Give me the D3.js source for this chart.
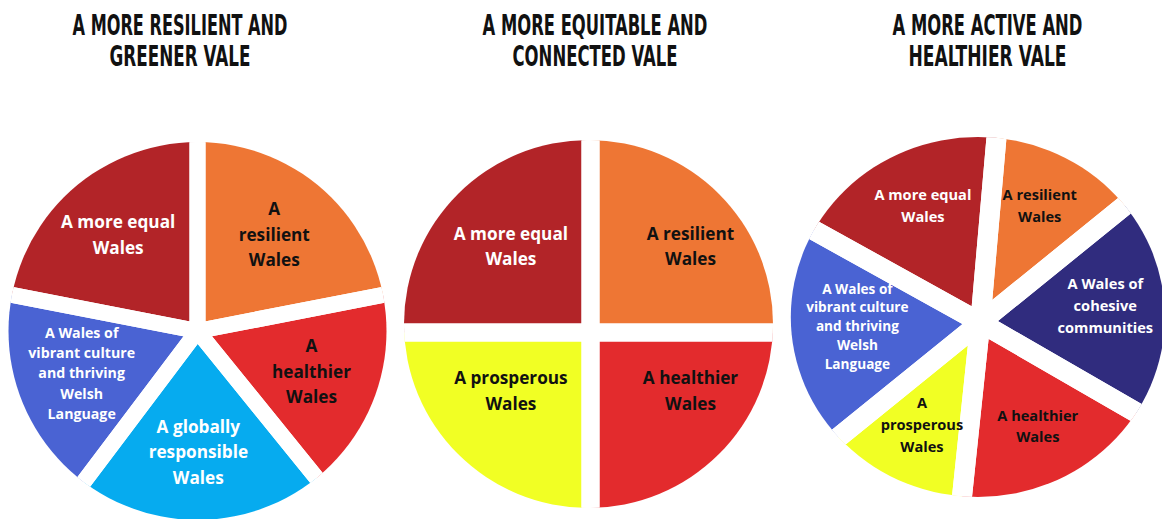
<!DOCTYPE html>
<html>
<head>
<meta charset="utf-8">
<script src="https://cdn.jsdelivr.net/npm/d3@7"></script>
<style>
  html, body { margin: 0; padding: 0; background: #ffffff; }
  svg { display: block; }
  .title { font-family: "Liberation Sans Narrow", "DejaVu Sans Condensed", sans-serif; font-weight: 700; fill: #111; }
  .lbl { font-family: "Open Sans", "Noto Sans", sans-serif; font-weight: 700; }
</style>
</head>
<body>
<div id="chart"></div>
<script>
// ---------------- DATA ----------------
const titles = [
  ["A MORE RESILIENT AND", "GREENER VALE"],
  ["A MORE EQUITABLE AND", "CONNECTED VALE"],
  ["A MORE ACTIVE AND", "HEALTHIER VALE"]
];

// Pie 1 – A more resilient and greener Vale (slice shares in degrees, clockwise)
const pie1Goals  = ["equal", "resilient", "healthier", "global", "culture"];
const pie1Values = [79, 79, 62, 76, 64];
const pie1Labels = [
  ["A more equal", "Wales"],
  ["A", "resilient", "Wales"],
  ["A", "healthier", "Wales"],
  ["A globally", "responsible", "Wales"],
  ["A Wales of", "vibrant culture", "and thriving", "Welsh", "Language"]
];

// Pie 2 – A more equitable and connected Vale
const pie2Goals  = ["equal", "resilient", "healthier", "prosperous"];
const pie2Values = [90, 90, 90, 90];
const pie2Labels = [
  ["A more equal", "Wales"],
  ["A resilient", "Wales"],
  ["A healthier", "Wales"],
  ["A prosperous", "Wales"]
];

// Pie 3 – A more active and healthier Vale
const pie3Goals  = ["equal", "resilient", "cohesive", "healthier", "prosperous", "culture"];
const pie3Values = [66, 46, 69, 66, 45, 68];
const pie3Labels = [
  ["A more equal", "Wales"],
  ["A resilient", "Wales"],
  ["A Wales of", "cohesive", "communities"],
  ["A healthier", "Wales"],
  ["A", "prosperous", "Wales"],
  ["A Wales of", "vibrant culture", "and thriving", "Welsh", "Language"]
];

// ---------------- STYLE ----------------
const goalColor = {
  equal: "#B22428", resilient: "#EE7634", healthier: "#E32B2D",
  global: "#06ABEF", culture: "#4A63D3", prosperous: "#F1FF24", cohesive: "#302C7E"
};
const goalText = {
  equal: "#ffffff", resilient: "#111111", healthier: "#111111",
  global: "#ffffff", culture: "#ffffff", prosperous: "#111111", cohesive: "#ffffff"
};

const W = 1162, H = 519;
const svg = d3.select("#chart").append("svg").attr("width", W).attr("height", H);
const defs = svg.append("defs");

// titles (condensed: natural width squeezed horizontally to the target width)
const titleLayout = [
  { x: 180, widths: [215, 141] },
  { x: 595, widths: [225, 165] },
  { x: 987.5, widths: [190, 158] }
];
titles.forEach((lines, i) => {
  lines.forEach((t, j) => {
    const y = 34.5 + j * 31.5;
    const g = svg.append("g");
    const txt = g.append("text").attr("class", "title")
      .attr("x", 0).attr("y", 0)
      .attr("text-anchor", "middle").attr("font-size", 29)
      .text(t);
    const natural = txt.node().getComputedTextLength();
    const sx = titleLayout[i].widths[j] / natural;
    g.attr("transform", `translate(${titleLayout[i].x},${y}) scale(${sx},1)`);
  });
});

// pie layouts: cross point (cx,cy), outline ellipse offset (ox,oy) and radii, gap width,
// label ring centre offset (lx,ly) and radii (lrx,lry)
const pieLayouts = [
  { cx: 197.5, cy: 331,   ox: 0,    oy: 0,    rx: 189,   ry: 189, gap: 16, start: -79,
    lx: -1.3, ly: -1.6,  lrx: 122.7, lry: 122.7, font: 17.2, small: 14.2, smallLH: 20.2 },
  { cx: 590.5, cy: 332.5, ox: -2,   oy: -8.5, rx: 184.5, ry: 184, gap: 18, start: -90,
    lx: 10.2, ly: -14,   lrx: 127,   lry: 102.5, font: 17.2, small: 14.2, smallLH: 20.2 },
  { cx: 980.3, cy: 322.5, ox: -2.5, oy: -5.5, rx: 187,   ry: 180, gap: 20, start: -61,
    lx: 1,    ly: -7,    lrx: 124.4, lry: 124.4, font: 14.6, small: 13.6, smallLH: 18.8 }
];

function drawPie(idx, goals, values, labels) {
  const L = pieLayouts[idx];
  const data = goals.map((g, i) => ({ goal: g, value: values[i], lines: labels[i] }));
  const a0 = L.start * Math.PI / 180;
  const pie = d3.pie().sort(null).value(d => d.value).startAngle(a0).endAngle(a0 + 2 * Math.PI);
  const arcs = pie(data);
  const R = Math.max(L.rx, L.ry) + 40;
  const arc = d3.arc().innerRadius(0).outerRadius(R);

  const clipId = "clip" + idx;
  defs.append("clipPath").attr("id", clipId)
    .append("ellipse").attr("cx", L.ox).attr("cy", L.oy).attr("rx", L.rx).attr("ry", L.ry);

  const g = svg.append("g").attr("transform", `translate(${L.cx},${L.cy})`);
  const body = g.append("g").attr("clip-path", `url(#${clipId})`);
  body.selectAll("path.slice").data(arcs).join("path")
    .attr("class", "slice").attr("d", arc).attr("fill", d => goalColor[d.data.goal]);
  body.selectAll("path.gap").data(arcs).join("path")
    .attr("class", "gap").attr("d", arc).attr("fill", "none")
    .attr("stroke", "#ffffff").attr("stroke-width", L.gap).attr("stroke-linejoin", "round");

  // unit direction of each slice's bisector, stretched onto the label ring
  const unitArc = d3.arc().innerRadius(1).outerRadius(1);
  const lg = g.append("g").attr("transform", `translate(${L.lx},${L.ly})`);
  arcs.forEach(d => {
    const [ux, uy] = unitArc.centroid(d);
    const x = ux * L.lrx, y = uy * L.lry;
    const n = d.data.lines.length;
    const fs = n >= 5 ? L.small : L.font;
    const lh = n >= 5 ? L.smallLH : fs * 1.48;
    const t = lg.append("text").attr("class", "lbl")
      .attr("text-anchor", "middle").attr("font-size", fs)
      .attr("fill", goalText[d.data.goal]);
    d.data.lines.forEach((line, k) => {
      t.append("tspan").attr("x", x)
        .attr("y", y + (k - (n - 1) / 2) * lh + fs * 0.36)
        .text(line);
    });
  });
}

drawPie(0, pie1Goals, pie1Values, pie1Labels);
drawPie(1, pie2Goals, pie2Values, pie2Labels);
drawPie(2, pie3Goals, pie3Values, pie3Labels);
</script>
</body>
</html>
